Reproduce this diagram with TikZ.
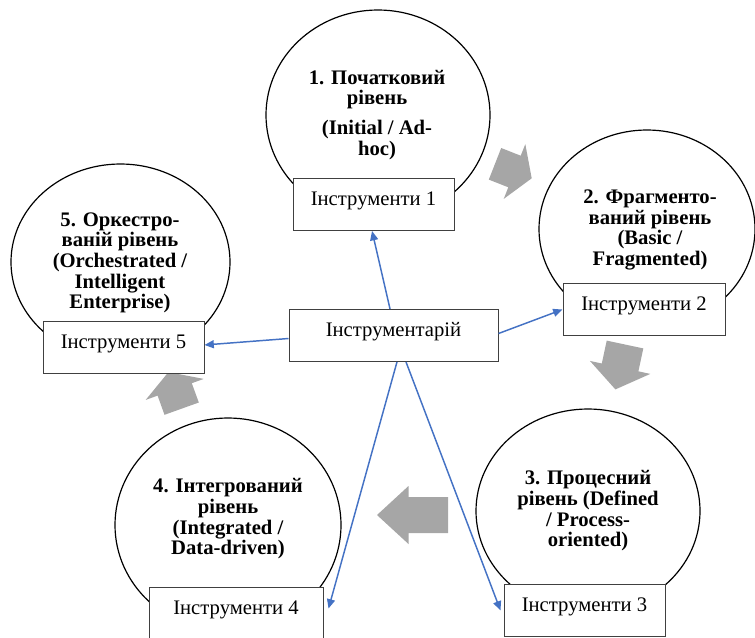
\documentclass[tikz,border=0pt]{standalone}
\usepackage{fontspec}
\setmainfont{Liberation Serif}
\usetikzlibrary{arrows.meta,shapes.geometric}
\definecolor{arrblue}{RGB}{68,114,196}
\definecolor{blockgray}{RGB}{166,166,166}
\definecolor{boxline}{RGB}{64,64,64}
\AtBeginDocument{\setlength{\lineskiplimit}{-20pt}}
\begin{document}
\begin{tikzpicture}[x=0.75pt,y=-0.75pt,
  lvl/.style={ellipse, draw=black, line width=0.9pt, fill=white, inner sep=0pt},
  lvltext/.style={align=center, inner sep=0pt,
    font=\bfseries\fontsize{15.5}{15.5}\selectfont},
  toolbox/.style={draw=boxline, line width=0.75pt, fill=white, anchor=north,
    minimum width=#1, inner xsep=0pt, inner ysep=0pt,
    text height=20.25pt, text depth=18.75pt,
    font=\fontsize{15.5}{18}\selectfont},
  blockarrow/.style={fill=blockgray, draw=none},
  conn/.style={draw=arrblue, line width=1.1pt, -{Triangle[length=7pt,width=6pt]}}
]
\useasboundingbox (0,0) rectangle (755,637);
\clip (0,0) rectangle (755,637);

% level ellipses
\node[lvl, minimum width=168pt, minimum height=157.5pt] (l1) at (378,115) {};
\node[lvl, minimum width=162pt, minimum height=148.5pt] (l2) at (647,229) {};
\node[lvl, minimum width=164.25pt, minimum height=147pt] (l5) at (120.5,262) {};
\node[lvl, minimum width=169.5pt, minimum height=160.5pt] (l4) at (228,525) {};
\node[lvl, minimum width=168pt, minimum height=153pt] (l3) at (588,511) {};

% level texts
\node[lvltext] (t1) at (377,115) {1. Початковий\\рівень\\[7pt](Initial / Ad-\\hoc)};
\node[lvltext] (t2) at (650,230) {2. Фрагменто-\\ваний рівень\\(Basic /\\Fragmented)};
\node[lvltext] (t5) at (120,263) {5. Оркестро-\\ваній рівень\\(Orchestrated /\\Intelligent\\Enterprise)};
\node[lvltext] (t4) at (228,519) {4. Інтегрований\\рівень\\(Integrated /\\Data-driven)};
\node[lvltext] (t3) at (588,511) {3. Процесний\\рівень (Defined\\/ Process-\\oriented)};

% gray block arrows
\fill[blockarrow] (501.2,148.0) -- (520.7,155.7) -- (525.3,144.1) -- (531.7,178.3)
  -- (503.7,198.9) -- (508.3,187.3) -- (488.8,179.6) -- cycle;
\fill[blockarrow] (606.7,340.6) -- (643.3,348.4) -- (638.4,371.3) -- (650.3,373.9)
  -- (615.4,389.4) -- (589.9,360.9) -- (601.8,363.5) -- cycle;
\fill[blockarrow] (448,497) -- (408.5,497) -- (408.5,486) -- (377,515)
  -- (408.5,544) -- (408.5,533) -- (448,533) -- cycle;
\fill[blockarrow] (164.5,414.8) -- (198.8,402.5) -- (191.8,383.2) -- (203.7,378.9)
  -- (168.4,372.1) -- (145.7,399.9) -- (157.6,395.6) -- cycle;

% tool boxes
\node[toolbox=120.75pt] (b1) at (373.5,178) {Інструменти 1};
\node[toolbox=121.5pt] (b2) at (644,283) {Інструменти 2};
\node[toolbox=120.75pt] (b5) at (123.5,321) {Інструменти 5};
\node[toolbox=130.5pt] (b4) at (236,587) {Інструменти 4};
\node[toolbox=120.75pt] (b3) at (584.5,584) {Інструменти 3};
\node[toolbox=156.75pt] (c) at (393.5,309) {Інструментарій};

% connectors
\draw[conn] ([xshift=-2.6pt]c.north) -- ([xshift=-1.1pt]b1.south);
\draw[conn] ([yshift=1.5pt]c.east) -- (b2.west);
\draw[conn] ([yshift=-2.25pt]c.west) -- ([yshift=1.9pt]b5.east);
\draw[conn] ([xshift=2.6pt]c.south) -- ([xshift=3.75pt,yshift=3.75pt]b4.east);
\draw[conn] ([xshift=9.4pt]c.south) -- ([xshift=-2.25pt]b3.west);
\end{tikzpicture}
\end{document}
